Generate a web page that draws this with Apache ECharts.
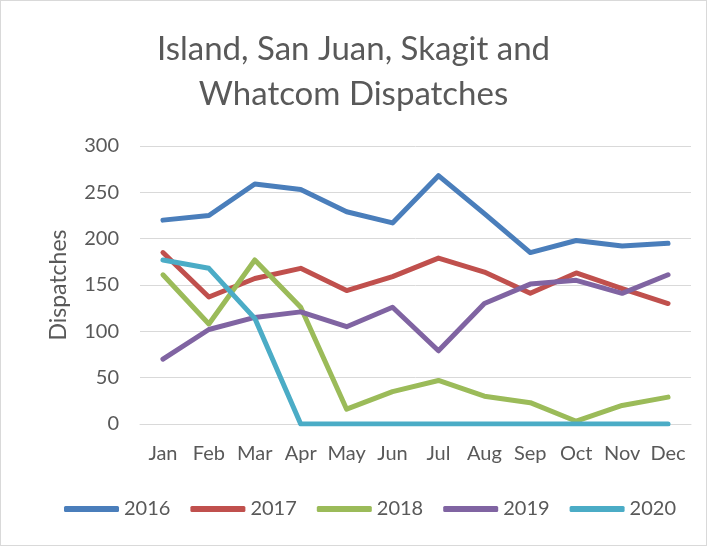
<!DOCTYPE html>
<html>
<head>
<meta charset="utf-8">
<script src="https://cdn.jsdelivr.net/npm/echarts@6/dist/echarts.min.js"></script>
<style>
  html, body { margin: 0; padding: 0; background: #fff; }
  #chart { width: 705px; height: 544px; border: 1px solid #d9d9d9; }
</style>
</head>
<body>
<div id="chart"></div>
<script>
const months = ["Jan", "Feb", "Mar", "Apr", "May", "Jun", "Jul", "Aug", "Sep", "Oct", "Nov", "Dec"];
const years = ["2016", "2017", "2018", "2019", "2020"];
const colors = ["#4a7ebb", "#c0504d", "#9bbb59", "#8064a2", "#4bacc6"];

const d2016 = [220, 225, 259, 253, 229, 217, 268, 227, 185, 198, 192, 195];
const d2017 = [185, 137, 157, 168, 144, 159, 179, 164, 141, 163, 146, 130];
const d2018 = [161, 108, 177, 126, 16, 35, 47, 30, 23, 3, 20, 29];
const d2019 = [70, 102, 115, 121, 105, 126, 79, 130, 151, 155, 141, 161];
const d2020 = [177, 168, 114, 0, 0, 0, 0, 0, 0, 0, 0, 0];
const allData = [d2016, d2017, d2018, d2019, d2020];

const font = "Lato, 'Liberation Sans', sans-serif";
const textColor = "#595959";

let myChart = echarts.init(document.getElementById("chart"), null, { renderer: "canvas" });

let option = {
  animation: false,
  color: colors,
  title: {
    text: "Island, San Juan, Skagit and\nWhatcom Dispatches",
    left: "center",
    top: 21,
    textStyle: {
      fontFamily: font,
      fontWeight: "normal",
      fontSize: 33,
      lineHeight: 45,
      color: textColor,
    },
  },
  legend: {
    bottom: 21,
    left: 58,
    itemWidth: 55,
    itemHeight: 6,
    itemGap: 20,
    icon: "roundRect",
    textStyle: { fontFamily: font, fontSize: 20, color: textColor },
    data: years,
  },
  grid: { left: 139, right: 15, top: 145, bottom: 121 },
  xAxis: {
    type: "category",
    data: months,
    boundaryGap: true,
    axisLine: { lineStyle: { color: "#d9d9d9" } },
    axisTick: { show: false },
    axisLabel: { interval: 0, hideOverlap: false, fontFamily: font, fontSize: 20, color: textColor, margin: 20 },
  },
  yAxis: {
    type: "value",
    min: 0,
    max: 300,
    interval: 50,
    name: "Dispatches",
    nameLocation: "middle",
    nameGap: 70,
    nameTextStyle: { fontFamily: font, fontSize: 23, color: textColor },
    axisLine: { show: false },
    axisTick: { show: false },
    axisLabel: { fontFamily: font, fontSize: 20, color: textColor, margin: 21 },
    splitLine: { lineStyle: { color: "#d9d9d9", width: 1 } },
  },
  series: years.map((y, i) => ({
    name: y,
    type: "line",
    data: allData[i],
    showSymbol: false,
    symbol: "none",
    lineStyle: { width: 5, color: colors[i], cap: "round", join: "round" },
    itemStyle: { color: colors[i] },
  })),
};

myChart.setOption(option);
</script>
</body>
</html>
